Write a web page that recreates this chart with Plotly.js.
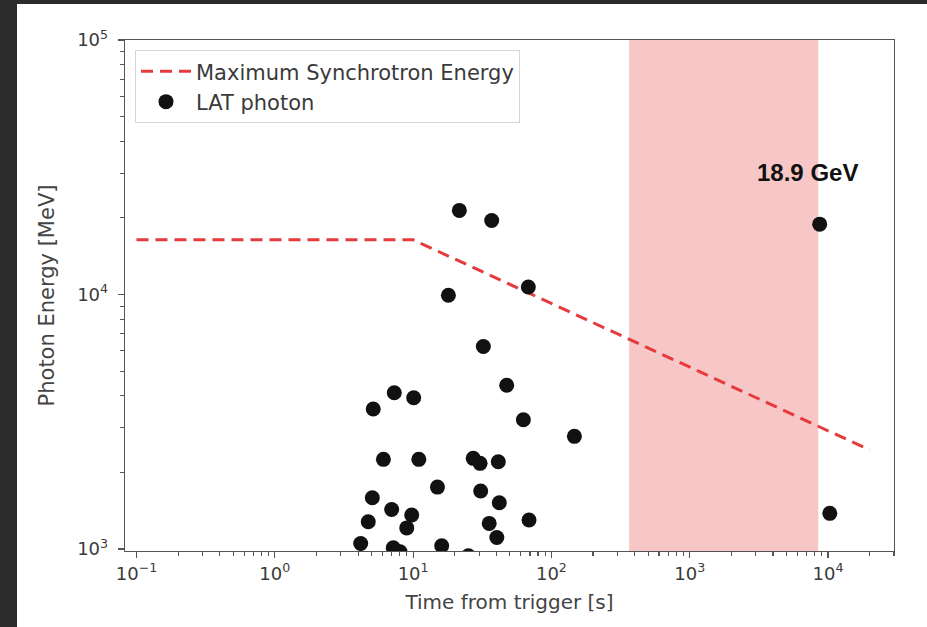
<!DOCTYPE html>
<html><head><meta charset="utf-8">
<script src="https://cdn.plot.ly/plotly-3.0.1.min.js"></script>
<style>
html,body{margin:0;padding:0;background:#2c2b2c;width:927px;height:627px;overflow:hidden;}
#plot{position:absolute;left:17px;top:4px;width:910px;height:623px;background:#fff;}
</style></head><body>
<div id="plot"></div>
<script>
// LAT photons: time from trigger [s], energy [MeV]
const photonTime = [21.6, 37.0, 68.1, 18.0, 32.2, 47.5, 7.31, 10.1, 5.15, 62.7, 146.6,
  6.10, 11.0, 27.2, 30.5, 41.3, 15.0, 30.8, 5.07, 42.0, 7.00, 9.77, 4.74, 9.00, 35.5,
  68.9, 40.3, 4.18, 7.19, 8.04, 16.1, 25.1, 8700, 10300];
const photonEnergy = [21400, 19540, 10700, 9930, 6250, 4400, 4110, 3930, 3550, 3220, 2770,
  2250, 2250, 2270, 2170, 2200, 1750, 1690, 1590, 1520, 1430, 1360, 1280, 1210, 1260,
  1300, 1110, 1050, 1010, 975, 1030, 940, 18900, 1380];
// Maximum synchrotron energy curve
const synchTime = [0.1, 10, 20000];
const synchEnergy = [16400, 16400, 2450];
// shaded interval [s]
const bandStart = 365, bandEnd = 8500;
// highlighted photon
const highTime = 8700, highEnergy = 18900, highLabel = "18.9 GeV";
// tick labels
const xTickVals = [0.1, 1, 10, 100, 1000, 10000];
const xTickText = ["10<sup>−1</sup>", "10<sup>0</sup>", "10<sup>1</sup>", "10<sup>2</sup>", "10<sup>3</sup>", "10<sup>4</sup>"];
const yTickVals = [1000, 10000, 100000];
const yTickText = ["10<sup>3</sup>", "10<sup>4</sup>", "10<sup>5</sup>"];

function minorTicks(lo, hi) {
  const out = [];
  for (let e = lo; e <= hi; e++) for (let m = 2; m <= 9; m++) out.push(m * Math.pow(10, e));
  return out;
}

const axisFont = {family: "DejaVu Sans", size: 20, color: "#444"};
const common = {
  type: "log", tickmode: "array",
  showline: true, mirror: true, linecolor: "#555", linewidth: 1.3,
  ticks: "outside", ticklen: 6, tickwidth: 1.2, tickcolor: "#555",
  showgrid: false, zeroline: false,
  tickfont: {family: "DejaVu Sans", size: 18, color: "#3a3a3a"}
};
const minorCommon = {tickmode: "array", ticks: "outside", ticklen: 4, tickwidth: 1.1, tickcolor: "#555", showgrid: false};

const traces = [
  {x: synchTime, y: synchEnergy, mode: "lines", name: "Maximum Synchrotron Energy",
   line: {color: "#e63a3c", width: 3, dash: "12px,7px"}},
  {x: photonTime, y: photonEnergy, mode: "markers", name: "LAT photon",
   marker: {color: "#111", size: 15}}
];

const layout = {
  width: 910, height: 623,
  margin: {l: 108, r: 33, t: 36, b: 76},
  paper_bgcolor: "#fff", plot_bgcolor: "#fff",
  showlegend: true,
  legend: {x: 0.013, y: 0.98, xanchor: "left", yanchor: "top",
    bgcolor: "#fff", bordercolor: "#d6d6d6", borderwidth: 1,
    font: {family: "DejaVu Sans", size: 21, color: "#3a3a3a"}, tracegroupgap: 0, itemwidth: 50},
  xaxis: Object.assign({}, common, {range: [-1.083, 4.477], tickvals: xTickVals, ticktext: xTickText,
    minor: Object.assign({tickvals: minorTicks(-1, 4)}, minorCommon),
    title: {text: "Time from trigger [s]", font: axisFont, standoff: 12}}),
  yaxis: Object.assign({}, common, {range: [2.992, 5.0], tickvals: yTickVals, ticktext: yTickText,
    ticklabelstandoff: 6,
    minor: Object.assign({tickvals: minorTicks(2, 4)}, minorCommon),
    title: {text: "Photon Energy [MeV]", font: Object.assign({}, axisFont, {size: 21}), standoff: 16}}),
  shapes: [{type: "rect", xref: "x", yref: "paper", x0: bandStart, x1: bandEnd, y0: 0, y1: 1,
    fillcolor: "#f7c6c7", line: {width: 0}, layer: "below"}],
  annotations: [{xref: "x", yref: "y", x: Math.log10(highTime), y: Math.log10(highEnergy),
    text: "<b>" + highLabel + "</b>", showarrow: false, yshift: 52, xshift: -12,
    font: {family: "Liberation Sans", size: 24, color: "#111"}}]
};

Plotly.newPlot("plot", traces, layout, {staticPlot: true});
</script></body></html>
